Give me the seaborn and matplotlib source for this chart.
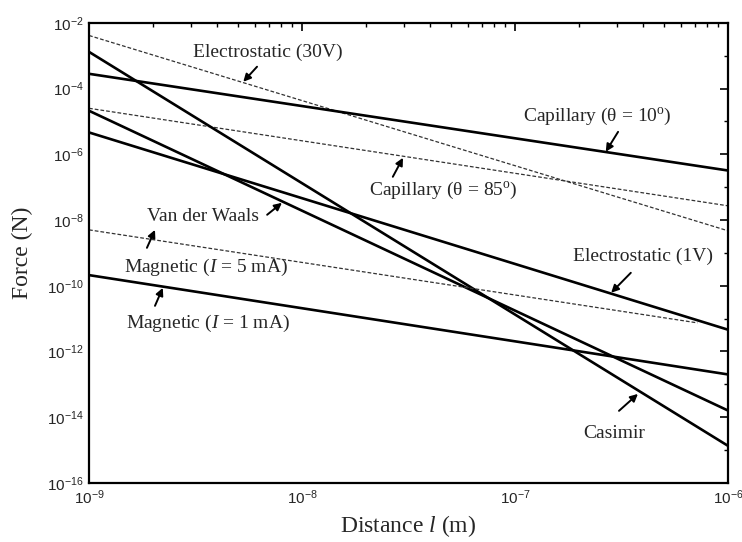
import numpy as np
import pandas as pd
import matplotlib
matplotlib.use("Agg")
import matplotlib.pyplot as plt
import seaborn as sns

# ------------------------------------------------------------
# DATA (end points, lines are straight)
# ------------------------------------------------------------
series_names = ["Electrostatic (30V)", "Capillary (10)", "Capillary (85)", "Casimir",
                "Van der Waals", "Electrostatic (1V)", "Magnetic (5 mA)", "Magnetic (1 mA)"]
distance_start = [1e-9, 1e-9, 1e-9, 1e-9, 1e-9, 1e-9, 1e-9, 1e-9]
distance_end = [1e-6, 1e-6, 1e-6, 1e-6, 1e-6, 1e-6, 7.2e-7, 1e-6]
force_start = [4.1e-3, 2.8e-4, 2.5e-5, 1.3e-3, 2.1e-5, 4.6e-6, 5.0e-9, 2.1e-10]
force_end = [4.7e-9, 3.2e-7, 2.7e-8, 1.35e-15, 1.6e-14, 4.6e-12, 7.4e-12, 2.0e-13]
dashed = [True, False, True, False, False, False, True, False]

rows = []
for name, x0, x1, y0, y1 in zip(series_names, distance_start, distance_end, force_start, force_end):
    rows.append({"series": name, "distance": x0, "force": y0})
    rows.append({"series": name, "distance": x1, "force": y1})
df = pd.DataFrame(rows)

# label text, text centre, arrow head, arrow tail (data coords)
label_texts = ["Electrostatic (30V)", "Capillary (θ = 10$^{\\rm o}$)",
               "Capillary (θ = 85$^{\\rm o}$)", "Van der Waals", "Electrostatic (1V)",
               r"Magnetic ($I$ = 5 mA)", r"Magnetic ($I$ = 1 mA)", "Casimir"]
label_pos = [(6.9e-9, 1.22e-3), (2.45e-7, 1.38e-5), (4.6e-8, 7.7e-8), (3.43e-9, 1.25e-8),
             (3.99e-7, 7.6e-10), (3.54e-9, 3.5e-10), (3.62e-9, 6.9e-12), (2.94e-7, 3.3e-15)]
arrow_heads = [(5.3e-9, 1.6e-4), (2.67e-7, 1.19e-6), (2.98e-8, 7.8e-7), (8.05e-9, 3.33e-8),
               (2.83e-7, 6.1e-11), (2.04e-9, 5.0e-9), (2.22e-9, 8.6e-11), (3.78e-7, 5.1e-14)]
arrow_tails = [(6.15e-9, 4.6e-4), (3.05e-7, 4.8e-6), (2.67e-8, 2.06e-7), (6.86e-9, 1.44e-8),
               (3.5e-7, 2.47e-10), (1.87e-9, 1.42e-9), (2.04e-9, 2.44e-11), (3.08e-7, 1.56e-14)]

x_major = [1e-9, 1e-8, 1e-7, 1e-6]
y_major = [1e-16, 1e-14, 1e-12, 1e-10, 1e-8, 1e-6, 1e-4, 1e-2]
y_minor = [1e-15, 1e-13, 1e-11, 1e-9, 1e-7, 1e-5, 1e-3]

# ------------------------------------------------------------
# PLOT
# ------------------------------------------------------------
sns.set_theme(style="white")
plt.rcParams["font.family"] = ["Liberation Serif", "DejaVu Serif"]
plt.rcParams["mathtext.fontset"] = "custom"
plt.rcParams["mathtext.rm"] = "Liberation Serif"
plt.rcParams["mathtext.it"] = "Liberation Serif:italic"

fig = plt.figure(figsize=(7.42, 5.42), dpi=100)
ax = fig.add_axes([0.120, 0.109, 0.861, 0.849])

for name, is_dashed in zip(series_names, dashed):
    sub = df[df["series"] == name]
    if is_dashed:
        sns.lineplot(data=sub, x="distance", y="force", ax=ax, color="#333333",
                     lw=0.9, linestyle=(0, (3, 1.6)), legend=False)
    else:
        sns.lineplot(data=sub, x="distance", y="force", ax=ax, color="black",
                     lw=1.9, legend=False)

ax.set_xscale("log")
ax.set_yscale("log")
ax.set_xlim(1e-9, 1e-6)
ax.set_ylim(1e-16, 1e-2)

ax.set_xticks(x_major)
ax.xaxis.set_minor_locator(matplotlib.ticker.LogLocator(base=10, subs=np.arange(2, 10), numticks=20))
ax.xaxis.set_minor_formatter(matplotlib.ticker.NullFormatter())
ax.set_yticks(y_major)
ax.set_yticks(y_minor, minor=True)
ax.yaxis.set_minor_formatter(matplotlib.ticker.NullFormatter())

ax.tick_params(which="both", direction="in", top=True, right=True, color="black")
ax.tick_params(which="major", length=6, width=1.2)
ax.tick_params(which="minor", length=3, width=1.0)
for lab in ax.get_xticklabels() + ax.get_yticklabels():
    lab.set_family("Liberation Sans")
ax.tick_params(labelsize=11, pad=4)
for spine in ax.spines.values():
    spine.set_color("black")
    spine.set_linewidth(1.6)

ax.set_xlabel(r"Distance $l$ (m)", fontsize=17, labelpad=4)
ax.set_ylabel("Force (N)", fontsize=17, labelpad=10)

for text, pos, head, tail in zip(label_texts, label_pos, arrow_heads, arrow_tails):
    ax.text(pos[0], pos[1], text, fontsize=14, ha="center", va="center")
    ax.annotate("", xy=head, xytext=tail,
                arrowprops=dict(arrowstyle="-|>", color="black", lw=1.4,
                                mutation_scale=11, shrinkA=0, shrinkB=0))

fig.savefig("out.png", dpi=100)
